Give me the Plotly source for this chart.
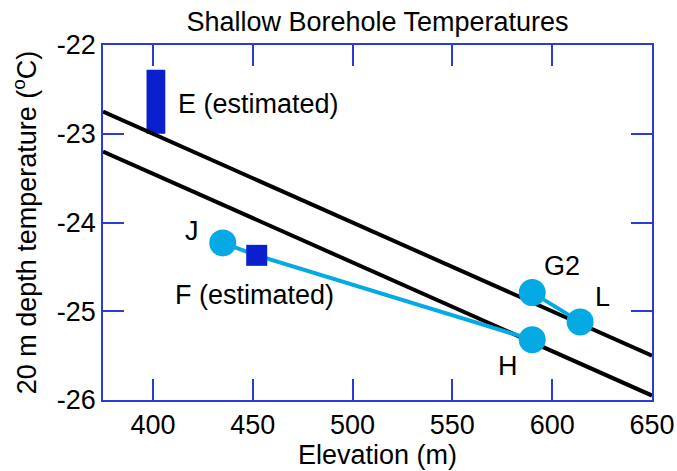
import plotly.graph_objects as go

# Measured 20 m depth temperatures (deg C) against elevation (m)
site_names = ["J", "F (estimated)", "H", "G2", "L"]
measured_elev = [435, 452, 590]
measured_temp = [-24.23, -24.37, -25.32]
upper_elev = [590, 614]
upper_temp = [-24.79, -25.12]

# Estimate for site E: a range rather than a single value
e_elev = 401.5
e_low = -23.0
e_high = -22.28

# Reference lapse-rate lines (~ -1 deg C per 100 m)
ref_elev = [375, 650]
ref_upper = [-22.75, -25.5]
ref_lower = [-23.2, -25.95]

CYAN = "#05a9e3"
NAVY = "#0a20cf"
AXIS = "#2a3cd8"
FONT = "Arial, Liberation Sans, sans-serif"
FS = 27

fig = go.Figure()

for ys in (ref_upper, ref_lower):
    fig.add_trace(go.Scatter(x=ref_elev, y=ys, mode="lines",
                             line=dict(color="black", width=4),
                             hoverinfo="skip", showlegend=False))

fig.add_trace(go.Bar(x=[e_elev], y=[e_high - e_low], base=[e_low], width=[9.4],
                     marker=dict(color=NAVY, line=dict(width=0)),
                     showlegend=False))

fig.add_trace(go.Scatter(x=measured_elev, y=measured_temp, mode="lines",
                         line=dict(color=CYAN, width=4), showlegend=False))
fig.add_trace(go.Scatter(x=upper_elev, y=upper_temp, mode="lines",
                         line=dict(color=CYAN, width=4), showlegend=False))

circ_x = [measured_elev[0], measured_elev[2]] + upper_elev
circ_y = [measured_temp[0], measured_temp[2]] + upper_temp
fig.add_trace(go.Scatter(x=circ_x, y=circ_y, mode="markers",
                         marker=dict(color=CYAN, size=27, symbol="circle"),
                         showlegend=False))
fig.add_trace(go.Scatter(x=[measured_elev[1]], y=[measured_temp[1]], mode="markers",
                         marker=dict(color=NAVY, size=21, symbol="square"),
                         showlegend=False))

# Site labels, offset from their points in pixels
label_pts = {
    "J": (measured_elev[0], measured_temp[0], -31, 12),
    "F (estimated)": (measured_elev[1], measured_temp[1], -2, -40),
    "H": (measured_elev[2], measured_temp[2], -24, -26),
    "G2": (upper_elev[0], upper_temp[0], 30, 27),
    "L": (upper_elev[1], upper_temp[1], 22, 25),
}
for name in site_names:
    x, y, dx, dy = label_pts[name]
    fig.add_annotation(x=x, y=y, text=name, showarrow=False,
                       xshift=dx, yshift=dy,
                       font=dict(family=FONT, size=FS, color="black"))
fig.add_annotation(x=e_elev, y=(e_low + e_high) / 2, text="E (estimated)",
                   showarrow=False, xanchor="left", xshift=20, yshift=-2,
                   font=dict(family=FONT, size=FS, color="black"))

axis_common = dict(showline=True, linecolor=AXIS, linewidth=1.5, mirror="ticks",
                   ticks="inside", ticklen=21, tickwidth=1.5, tickcolor=AXIS,
                   showgrid=False, zeroline=False,
                   tickfont=dict(family=FONT, size=FS, color="black"))

fig.update_xaxes(range=[375, 650], tickvals=[400, 450, 500, 550, 600, 650],
                 title=dict(text="Elevation (m)", standoff=4,
                            font=dict(family=FONT, size=FS, color="black")),
                 **axis_common)
fig.update_yaxes(range=[-26, -22], tickvals=[-26, -25, -24, -23, -22],
                 ticktext=["-26", "-25", "-24", "-23", "-22"],
                 title=dict(text="20 m depth temperature (<sup>o</sup>C)", standoff=12,
                            font=dict(family=FONT, size=FS, color="black")),
                 **axis_common)

fig.update_layout(
    width=677, height=471,
    margin=dict(l=103, r=25, t=45, b=71, autoexpand=False),
    paper_bgcolor="white", plot_bgcolor="white",
    title=dict(text="Shallow Borehole Temperatures", x=0.5, xref="paper",
               y=1 - 22 / 471, yref="container", yanchor="middle",
               font=dict(family=FONT, size=FS, color="black")),
    font=dict(family=FONT),
    showlegend=False,
)

fig.write_html("out.html")
